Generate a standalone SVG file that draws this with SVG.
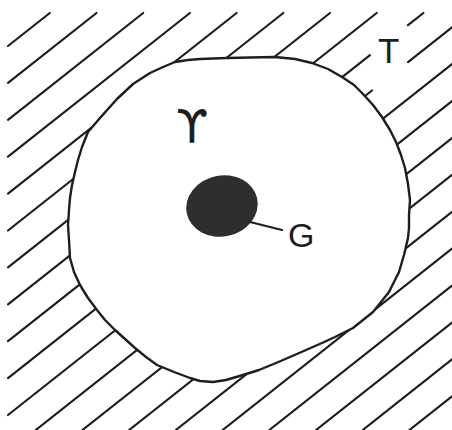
<svg xmlns="http://www.w3.org/2000/svg" width="452" height="430" viewBox="0 0 452 430">
  <style>
    .h { stroke: #1e1e1e; stroke-width: 2.2; stroke-linecap: round; fill: none; }
    .outline { fill: #ffffff; stroke: #1e1e1e; stroke-width: 2.4; stroke-linejoin: round; }
    .lbl { font-family: "Liberation Sans", Arial, sans-serif; fill: #1e1e1e; }
  </style>
  <rect x="0" y="0" width="452" height="430" fill="#ffffff"/>
  <g id="hatch">
    <line class="h" x1="8" y1="46" x2="49.8" y2="13"/>
    <line class="h" x1="8" y1="82.9" x2="96.5" y2="13"/>
    <line class="h" x1="8" y1="119.8" x2="143.2" y2="13"/>
    <line class="h" x1="8" y1="156.7" x2="189.9" y2="13"/>
    <line class="h" x1="8" y1="193.6" x2="236.6" y2="13"/>
    <line class="h" x1="8" y1="230.5" x2="283.3" y2="13"/>
    <line class="h" x1="8" y1="267.4" x2="330" y2="13"/>
    <line class="h" x1="8" y1="304.3" x2="376.7" y2="13"/>
    <line class="h" x1="8" y1="341.2" x2="370" y2="55.2"/>
    <line class="h" x1="408" y1="25.2" x2="423.4" y2="13"/>
    <line class="h" x1="8" y1="378.1" x2="372" y2="90.5"/>
    <line class="h" x1="408" y1="62.1" x2="452" y2="27.3"/>
    <line class="h" x1="8" y1="415" x2="452" y2="64.2"/>
    <line class="h" x1="35.7" y1="430" x2="452" y2="101.1"/>
    <line class="h" x1="82.4" y1="430" x2="452" y2="138"/>
    <line class="h" x1="129.1" y1="430" x2="452" y2="174.9"/>
    <line class="h" x1="175.8" y1="430" x2="452" y2="211.8"/>
    <line class="h" x1="222.6" y1="430" x2="452" y2="248.7"/>
    <line class="h" x1="269.3" y1="430" x2="452" y2="285.6"/>
    <line class="h" x1="316" y1="430" x2="452" y2="322.5"/>
    <line class="h" x1="362.7" y1="430" x2="452" y2="359.4"/>
    <line class="h" x1="409.4" y1="430" x2="452" y2="396.3"/>
  </g>
  <g id="cell">
    <path class="outline" d="M175,62 L188,60 L200,59 L227,58 L250,57.5 L275,57 L295,59 L312,63 L328,69 L342,77 L354,85 L363,94 L373,105 L382,117 L390,130 L396,142 L401,155 L405,168 L408,184 L410,200 L409,215 L409,228 L408,238 L404,255 L399,272 L389,292 L373,312 L353,328 L335,337 L322,343 L306,350 L290,357 L276,363 L259,370 L243,375 L226,380 L213,382 L200,381 L190,378 L174,372 L157,365 L146,357 L135,348 L125,339 L115,330 L105,320 L97,310 L88,298 L80,285 L74,272 L70,258 L69,240 L68,225 L69,210 L70,198 L72,185 L75,172 L78,160 L82,147 L88,132 L100,118 L117,99 L133,84 L150,73 L163,67 Z"/>
  </g>
  <g id="nucleus">
    <ellipse cx="222" cy="206" rx="36" ry="30.5" transform="rotate(-12 222 206)" fill="#2e2e2e"/>
  </g>
  <g id="connectors">
    <line class="h" x1="250" y1="222" x2="282" y2="230"/>
  </g>
  <g id="labels">
    <text class="lbl" x="288" y="247" font-size="34">G</text>
    <text class="lbl" x="378" y="63" font-size="35">T</text>
    <text class="lbl" x="192" y="143" font-size="46" text-anchor="middle" style="font-family: 'DejaVu Sans', sans-serif;">ϒ</text>
  </g>
</svg>
